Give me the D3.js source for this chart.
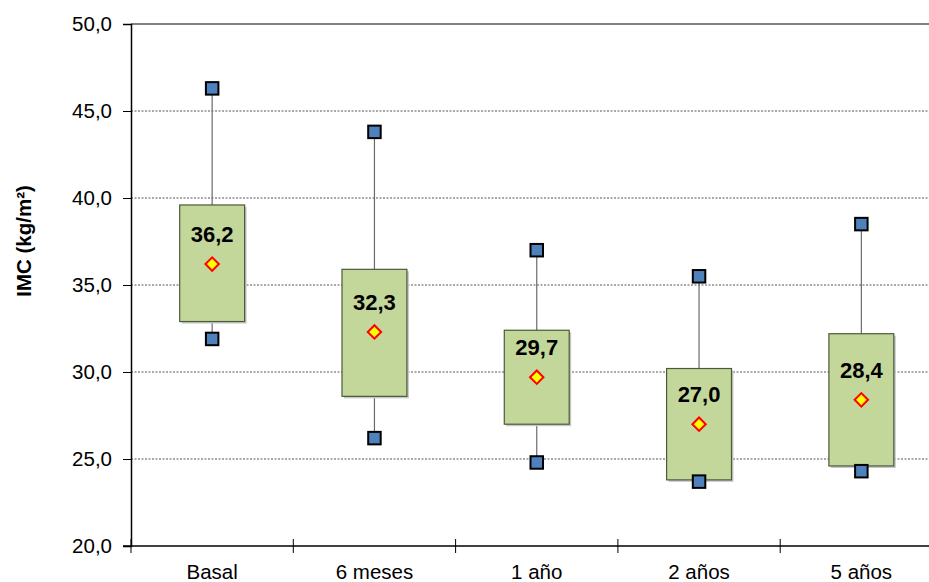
<!DOCTYPE html>
<html>
<head>
<meta charset="utf-8">
<script src="https://cdn.jsdelivr.net/npm/d3@7"></script>
<style>
  html, body { margin: 0; padding: 0; background: #fff; }
  svg { display: block; font-family: "Liberation Sans", Arial, sans-serif; }
</style>
</head>
<body>
<svg id="chart" width="929" height="582"></svg>
<script>
const categories = ["Basal", "6 meses", "1 año", "2 años", "5 años"];
const maxVals  = [46.3, 43.8, 37.0, 35.5, 38.5];
const q3Vals   = [39.6, 35.9, 32.4, 30.2, 32.2];
const q1Vals   = [32.9, 28.6, 27.0, 23.8, 24.6];
const minVals  = [31.9, 26.2, 24.8, 23.7, 24.3];
const meanVals = [36.2, 32.3, 29.7, 27.0, 28.4];
const yTicks = [20, 25, 30, 35, 40, 45, 50];
const yTitle = "IMC (kg/m²)";

const svg = d3.select("#chart");
const mLeft = 131, mRight = 942.5, mTop = 24, mBottom = 546;

const y = d3.scaleLinear().domain([20, 50]).range([mBottom, mTop]);
const slot = d3.scaleBand().domain(categories).range([mLeft, mRight]).padding(0);
const x = d3.scaleBand().domain(categories).range([mLeft, mRight]).paddingInner(0.6).paddingOuter(0.3);
const fmt = d => d.toFixed(1).replace(".", ",");

// gridlines
svg.append("g").selectAll("line").data(yTicks.filter(t => t > 20 && t < 50)).join("line")
  .attr("x1", mLeft).attr("x2", mRight)
  .attr("y1", d => y(d)).attr("y2", d => y(d))
  .attr("stroke", "#555").attr("stroke-width", 1).attr("stroke-dasharray", "2,1.5");

// top border
svg.append("line").attr("x1", mLeft).attr("x2", mRight).attr("y1", y(50)).attr("y2", y(50))
  .attr("stroke", "#808080").attr("stroke-width", 2);

// y axis
const yAxis = svg.append("g").attr("transform", `translate(${mLeft},0)`)
  .call(d3.axisLeft(y).tickValues(yTicks).tickFormat(fmt).tickSize(8).tickPadding(11));
yAxis.select(".domain").attr("stroke", "#000").attr("stroke-width", 1.5);
yAxis.selectAll(".tick line").attr("stroke", "#000");
yAxis.selectAll("text").attr("font-size", 20.5).attr("font-family", "Liberation Sans, Arial, sans-serif").attr("fill", "#000");

// x axis
const xAxis = svg.append("g").attr("transform", `translate(0,${mBottom})`)
  .call(d3.axisBottom(slot).tickSize(0).tickPadding(0));
xAxis.select(".domain").remove();
xAxis.selectAll("text").attr("font-size", 20.5).attr("font-family", "Liberation Sans, Arial, sans-serif")
  .attr("fill", "#000").attr("dy", null).attr("y", 33);
svg.append("line").attr("x1", mLeft - 8).attr("x2", mRight).attr("y1", mBottom).attr("y2", mBottom)
  .attr("stroke", "#000").attr("stroke-width", 1.5);
const boundaries = categories.map(c => slot(c)).concat([mRight]);
svg.append("g").selectAll("line").data(boundaries).join("line")
  .attr("x1", d => d).attr("x2", d => d).attr("y1", mBottom - 7).attr("y2", mBottom + 7)
  .attr("stroke", "#000").attr("stroke-width", 1);

// boxes
const data = categories.map((c, i) => ({c, max: maxVals[i], q3: q3Vals[i], q1: q1Vals[i], min: minVals[i], mean: meanVals[i]}));
const g = svg.append("g").selectAll("g").data(data).join("g");
const cx = d => x(d.c) + x.bandwidth() / 2;

g.append("line").attr("x1", cx).attr("x2", cx).attr("y1", d => y(d.max)).attr("y2", d => y(d.min))
  .attr("stroke", "#6a6a6a").attr("stroke-width", 1.2);
g.append("rect").attr("x", d => x(d.c) + 2).attr("y", d => y(d.q3) + 2)
  .attr("width", x.bandwidth()).attr("height", d => y(d.q1) - y(d.q3))
  .attr("fill", "#c8c8c8");
g.append("rect").attr("x", d => x(d.c)).attr("y", d => y(d.q3))
  .attr("width", x.bandwidth()).attr("height", d => y(d.q1) - y(d.q3))
  .attr("fill", "#c4d79b").attr("stroke", "#4b5a3c").attr("stroke-width", 1.2);

const sq = 12.5;
["max", "min"].forEach(k => {
  g.append("rect").attr("x", d => cx(d) - sq / 2).attr("y", d => y(d[k]) - sq / 2)
    .attr("width", sq).attr("height", sq)
    .attr("fill", "#4f81bd").attr("stroke", "#000").attr("stroke-width", 2);
});

g.append("path")
  .attr("d", d3.symbol(d3.symbolSquare, 90)())
  .attr("transform", d => `translate(${cx(d)},${y(d.mean)}) rotate(45)`)
  .attr("fill", "#ffff00").attr("stroke", "#ff0000").attr("stroke-width", 2);

g.append("text").attr("x", cx).attr("y", d => y(d.mean) - 22)
  .attr("text-anchor", "middle").attr("font-size", 22).attr("font-weight", "bold")
  .attr("fill", "#000").text(d => fmt(d.mean));

// y title
svg.append("text").attr("transform", "translate(31,241) rotate(-90)")
  .attr("text-anchor", "middle").attr("font-size", 20.5).attr("font-weight", "bold")
  .attr("fill", "#000").text(yTitle);
</script>
</body>
</html>
